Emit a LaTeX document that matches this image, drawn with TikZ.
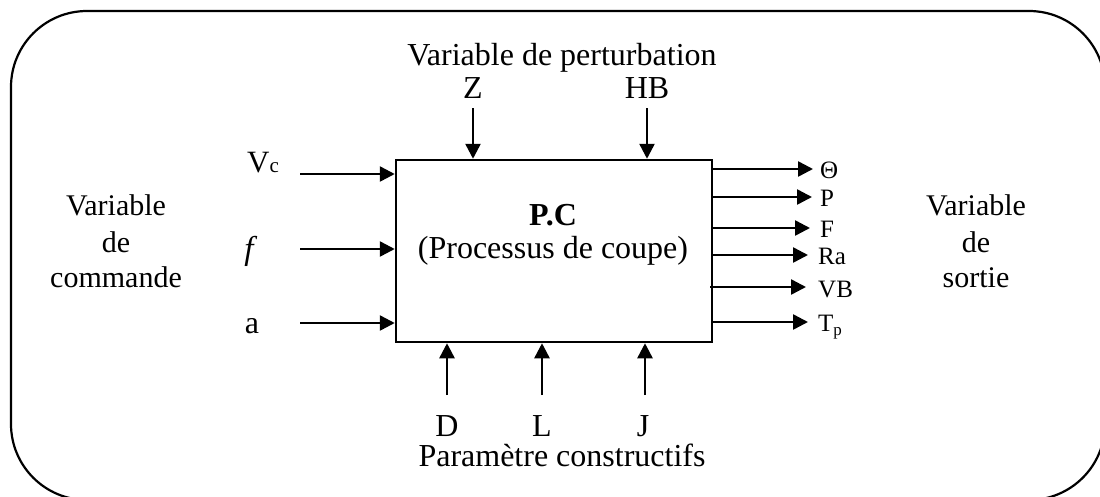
\documentclass[tikz,border=0pt]{standalone}
\usepackage{fontspec}
\setmainfont{Liberation Serif}
\usetikzlibrary{arrows.meta}
\begin{document}
\begin{tikzpicture}[x=1pt,y=-1pt,
  arr/.style={line width=2.5pt,-{Triangle[length=15pt,width=15pt]}},
  big/.style={font=\fontsize{32}{38}\selectfont, inner sep=0pt, anchor=base},
  side/.style={font=\fontsize{30}{36}\selectfont, inner sep=0pt, anchor=base},
  outl/.style={font=\fontsize{25}{30}\selectfont, inner sep=0pt, anchor=base west}]
\useasboundingbox (0,0) rectangle (1100,496);
\clip (0,0) rectangle (1100,496);
\draw[line width=2.2pt, rounded corners=76pt] (11,11) rectangle (1105,500);
% main box
\node[draw, line width=2.5pt, minimum width=316pt, minimum height=182pt, inner sep=0pt] (pc) at (554,251) {};
\node[big, font=\fontsize{32}{38}\selectfont\bfseries] (pct) at (553,225) {P.C};
\node[big] (proc) at (553,258) {(Processus de coupe)};
% top
\node[big] (pert) at (562,65) {Variable de perturbation};
\node[big] (z) at (473,98) {Z};
\node[big] (hb) at (647,98) {HB};
\coordinate (zs) at (473,108);
\coordinate (hbs) at (647,108);
\draw[arr] (zs) -- (zs |- pc.north);
\draw[arr] (hbs) -- (hbs |- pc.north);
% bottom
\coordinate (ds) at (447,395);
\coordinate (ls) at (542,395);
\coordinate (js) at (645,395);
\draw[arr] (ds) -- (ds |- pc.south);
\draw[arr] (ls) -- (ls |- pc.south);
\draw[arr] (js) -- (js |- pc.south);
\node[big] (d) at (447,436) {D};
\node[big] (l) at (542,436) {L};
\node[big] (j) at (643,436) {J};
\node[big] (param) at (562,466) {Paramètre constructifs};
% left
\node[side] (lv1) at (116,215) {Variable};
\node[side] (lv2) at (116,252) {de};
\node[side] (lv3) at (116,287) {commande};
\node[anchor=base west, inner sep=0pt] (vc) at (247,172) {\fontsize{31}{36}\selectfont V\fontsize{21}{24}\selectfont c};
\node[big, font=\fontsize{33}{38}\selectfont\itshape] (f) at (249,259) {f};
\node[big] (a) at (252,333) {a};
\coordinate (vcs) at (300,174);
\coordinate (fs) at (300,249);
\coordinate (as) at (300,323);
\draw[arr] (vcs) -- (vcs -| pc.west);
\draw[arr] (fs) -- (fs -| pc.west);
\draw[arr] (as) -- (as -| pc.west);
% right
\node[side] (rv1) at (976,215) {Variable};
\node[side] (rv2) at (976,252) {de};
\node[side] (rv3) at (976,287) {sortie};
\coordinate (the) at (813,169);
\coordinate (pe) at (812,197);
\coordinate (fe) at (810,228);
\coordinate (rae) at (808,255);
\coordinate (vbe) at (806,287);
\coordinate (tpe) at (808,322);
\draw[arr] (the -| pc.east) -- (the);
\draw[arr] (pe -| pc.east) -- (pe);
\draw[arr] (fe -| pc.east) -- (fe);
\draw[arr] (rae -| pc.east) -- (rae);
\draw[arr] ([xshift=-3pt]vbe -| pc.east) -- (vbe);
\draw[arr] (tpe -| pc.east) -- (tpe);
\node[outl] (th) at (820,178) {Θ};
\node[outl] (p) at (820,206) {P};
\node[outl] (fo) at (820,237) {F};
\node[outl] (ra) at (818,264) {Ra};
\node[outl] (vb) at (818,297) {VB};
\node[outl] (tp) at (818,331) {T\raisebox{-4pt}{\fontsize{17}{20}\selectfont p}};
\end{tikzpicture}
\end{document}
